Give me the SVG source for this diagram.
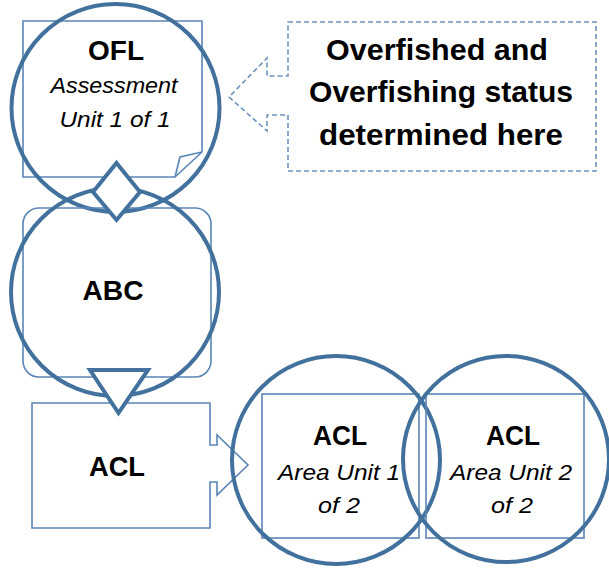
<svg xmlns="http://www.w3.org/2000/svg" width="609" height="569" viewBox="0 0 609 569">
<style>
.thin{fill:none;stroke:#5a85b5;stroke-width:1.6}
.thick{fill:none;stroke:#41719c;stroke-width:4}
.conn{fill:#ffffff;stroke:#41719c;stroke-width:4;stroke-linejoin:miter}
.dash{fill:none;stroke:#6d93bd;stroke-width:1.6;stroke-dasharray:5,3}
text{font-family:"Liberation Sans",Arial,sans-serif;fill:#000;text-anchor:middle}
.b{font-weight:bold;font-size:28px}
.i{font-style:italic;font-size:22px}
.big{font-weight:bold;font-size:30px}
</style>
<rect width="609" height="569" fill="#ffffff"/>
<g id="ofl">
<path class="thin" d="M23,21 H202 V152 L175,177 H23 Z"/>
<path class="thin" d="M202,152 L180,157 L175,177"/>
<circle class="thick" cx="115.5" cy="108" r="104"/>
<text class="b" x="116" y="60">OFL</text>
<text class="i" x="114" y="93" textLength="127" lengthAdjust="spacingAndGlyphs">Assessment</text>
<text class="i" x="115" y="127" textLength="111" lengthAdjust="spacingAndGlyphs">Unit 1 of 1</text>
</g>
<g id="callout">
<path class="dash" d="M288,22 H596 V171 H288 V115 H267 V131 L229,97 L267,58 V76 H288 Z"/>
<text class="big" x="437" y="60" textLength="222" lengthAdjust="spacingAndGlyphs">Overfished and</text>
<text class="big" x="441" y="102" textLength="264" lengthAdjust="spacingAndGlyphs">Overfishing status</text>
<text class="big" x="441" y="145" textLength="244" lengthAdjust="spacingAndGlyphs">determined here</text>
</g>
<g id="abc">
<rect class="thin" x="23" y="208" width="188" height="169" rx="16" ry="16"/>
<circle class="thick" cx="115" cy="292" r="104"/>
<text class="b" x="113" y="300" textLength="61" lengthAdjust="spacingAndGlyphs">ABC</text>
</g>
<g id="acl">
<path class="thin" d="M32,403 H210 V445 H217 V435 L248,465 L217,495 V482 H210 V528 H32 Z"/>
<text class="b" x="117" y="476" textLength="56" lengthAdjust="spacingAndGlyphs">ACL</text>
</g>
<g id="acl-area1">
<rect class="thin" x="262" y="394" width="157" height="144"/>
<circle class="thick" cx="336" cy="460" r="104"/>
<text class="b" x="340" y="445" textLength="54" lengthAdjust="spacingAndGlyphs">ACL</text>
<text class="i" x="339" y="480" textLength="122" lengthAdjust="spacingAndGlyphs">Area Unit 1</text>
<text class="i" x="339" y="513" textLength="42" lengthAdjust="spacingAndGlyphs">of 2</text>
</g>
<g id="acl-area2">
<rect class="thin" x="426" y="394" width="158" height="144"/>
<circle class="thick" cx="506" cy="459" r="103"/>
<text class="b" x="513" y="445" textLength="54" lengthAdjust="spacingAndGlyphs">ACL</text>
<text class="i" x="511" y="480" textLength="122" lengthAdjust="spacingAndGlyphs">Area Unit 2</text>
<text class="i" x="512" y="513" textLength="42" lengthAdjust="spacingAndGlyphs">of 2</text>
</g>
<g id="connectors">
<path class="conn" d="M116.5,163 L140,192 L116.5,220 L93,192 Z"/>
<path class="conn" d="M90,370 H148 L118.5,413 Z"/>
</g>
</svg>
